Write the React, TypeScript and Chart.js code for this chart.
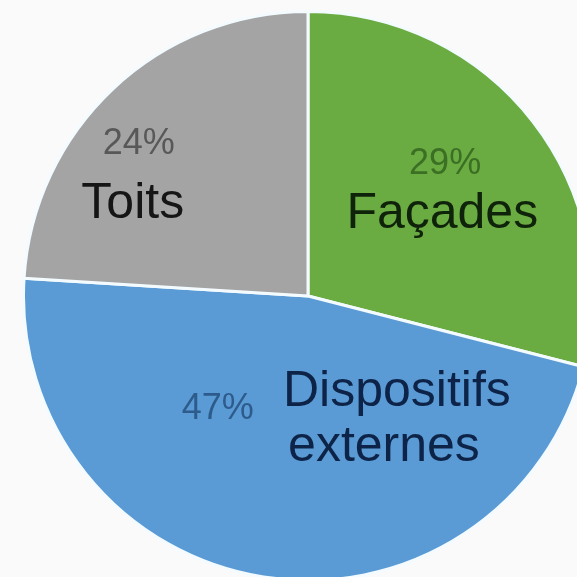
import React, { useEffect, useRef } from "react";
import { Chart, registerables } from "chart.js";

Chart.register(...registerables);

const categories = ["Façades", "Dispositifs externes", "Toits"];
const shares = [29, 47, 24];
const sliceColors = ["#6aab42", "#5b9bd5", "#a4a4a4"];
const percentLabels = ["29%", "47%", "24%"];
const nameLines = [["Façades"], ["Dispositifs", "externes"], ["Toits"]];
const percentColors = ["#3b6f24", "#2d5c8c", "#585858"];
const nameColors = ["#0f220a", "#0d2448", "#151515"];

// label anchor offsets (fractions of radius, from pie center)
const percentPos = [
  [0.482, -0.43, "center"],
  [-0.317, 0.433, "center"],
  [-0.595, -0.5, "center"],
];
const namePos = [
  [[0.472, -0.239, "center"]],
  [
    [-0.088, 0.387, "left"],
    [-0.07, 0.581, "left"],
  ],
  [[-0.616, -0.275, "center"]],
];

const labelPlugin = {
  id: "sliceLabels",
  afterDatasetsDraw(chart: any) {
    const meta = chart.getDatasetMeta(0);
    if (!meta.data.length) return;
    const arc = meta.data[0];
    const cx = arc.x;
    const cy = arc.y;
    const r = arc.outerRadius;
    const ctx = chart.ctx;
    ctx.save();
    ctx.textBaseline = "alphabetic";
    for (let i = 0; i < categories.length; i++) {
      const [px, py, pa] = percentPos[i] as any;
      ctx.font = '36px "Liberation Sans", Arial, sans-serif';
      ctx.fillStyle = percentColors[i];
      ctx.textAlign = pa;
      ctx.fillText(percentLabels[i], cx + px * r, cy + py * r);
      ctx.font = '50px "Liberation Sans", Arial, sans-serif';
      ctx.fillStyle = nameColors[i];
      nameLines[i].forEach((line, j) => {
        const [nx, ny, na] = namePos[i][j] as any;
        ctx.textAlign = na;
        ctx.fillText(line, cx + nx * r, cy + ny * r);
      });
    }
    ctx.restore();
  },
};

export default function App() {
  const ref = useRef<HTMLCanvasElement>(null);
  useEffect(() => {
    if (!ref.current) return;
    const chart = new Chart(ref.current, {
      type: "pie",
      data: {
        labels: categories,
        datasets: [
          {
            data: shares,
            backgroundColor: sliceColors,
            borderColor: "#f4fbff",
            borderWidth: 3,
          },
        ],
      },
      options: {
        responsive: false,
        animation: false,
        rotation: 0,
        layout: { padding: 0 },
        plugins: {
          legend: { display: false },
          tooltip: { enabled: false },
        },
      },
      plugins: [labelPlugin],
    });
    return () => chart.destroy();
  }, []);
  return (
    <div
      style={{
        position: "fixed",
        left: 0,
        top: 0,
        width: 577,
        height: 577,
        overflow: "hidden",
        background: "#fafafa",
      }}
    >
      <canvas
        ref={ref}
        width={572}
        height={572}
        style={{ position: "absolute", left: 22, top: 10, width: 572, height: 572 }}
      />
    </div>
  );
}
